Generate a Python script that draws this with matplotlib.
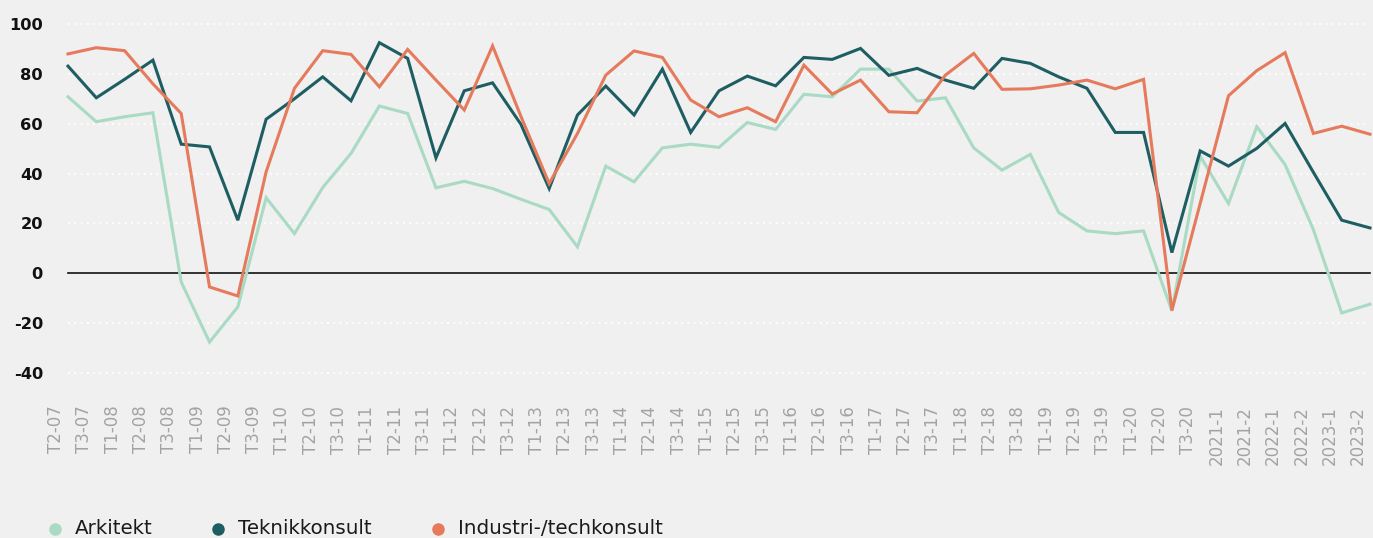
import matplotlib
matplotlib.use("Agg")
import matplotlib.pyplot as plt
import matplotlib.transforms as mtransforms
from matplotlib.lines import Line2D

labels = ["T2-07", "T3-07", "T1-08", "T2-08", "T3-08", "T1-09", "T2-09", "T3-09",
          "T1-10", "T2-10", "T3-10", "T1-11", "T2-11", "T3-11", "T1-12", "T2-12",
          "T3-12", "T1-13", "T2-13", "T3-13", "T1-14", "T2-14", "T3-14", "T1-15",
          "T2-15", "T3-15", "T1-16", "T2-16", "T3-16", "T1-17", "T2-17", "T3-17",
          "T1-18", "T2-18", "T3-18", "T1-19", "T2-19", "T3-19", "T1-20", "T2-20",
          "T3-20", "2021-1", "2021-2", "2022-1", "2022-2", "2023-1", "2023-2"]

arkitekt = [70.8, 60.8, 62.8, 64.4, -3.5, -27.6, -13.5, 30.3, 15.9, 34.4, 48.1, 67.1,
            64.1, 34.3, 36.9, 34.0, 29.7, 25.6, 10.6, 43.0, 36.7, 50.3, 51.8, 50.5,
            60.5, 57.7, 71.8, 70.8, 81.9, 81.9, 69.1, 70.4, 50.3, 41.4, 47.7, 24.4,
            17.0, 15.9, 17.0, -15.1, 47.0, 28.0, 58.8, 43.6, 17.5, -15.9, -12.4]

teknikkonsult = [83.1, 70.4, 77.8, 85.5, 51.8, 50.7, 21.3, 61.8, 70.0, 78.8, 69.2, 92.5,
                 86.2, 46.3, 73.2, 76.4, 59.8, 34.0, 63.5, 75.1, 63.5, 81.9, 56.5, 73.2,
                 79.1, 75.2, 86.6, 85.8, 90.2, 79.4, 82.2, 77.5, 74.2, 86.2, 84.2, 78.8,
                 74.2, 56.5, 56.5, 8.3, 49.1, 43.0, 50.1, 60.1, 40.5, 21.3, 18.2]

industri = [88.0, 90.5, 89.3, 76.0, 64.1, -5.5, -9.1, 40.7, 74.2, 89.3, 87.8, 74.8,
            89.8, 77.5, 65.5, 91.2, 63.0, 36.0, 56.1, 79.5, 89.2, 86.6, 69.5, 62.8,
            66.4, 60.8, 83.5, 71.9, 77.5, 64.8, 64.4, 79.5, 88.2, 73.8, 74.0, 75.5,
            77.5, 74.0, 77.8, -14.9, 28.0, 71.2, 81.3, 88.5, 56.1, 59.0, 55.8]

series_names = ["Arkitekt", "Teknikkonsult", "Industri-/techkonsult"]
colors = ["#A9DAC3", "#1E5E63", "#E57A5C"]
yticks = [-40, -20, 0, 20, 40, 60, 80, 100]

bg = "#EFF0EF"
W, H = 1373, 538
fig = plt.figure(figsize=(W / 100, H / 100), dpi=100, facecolor=bg)
x0, x1 = 68, 1370
ytop, ybot = 24, 373
ax = fig.add_axes([x0 / W, 1 - ybot / H, (x1 - x0) / W, (ybot - ytop) / H])
ax.set_facecolor(bg)
for s in ax.spines.values():
    s.set_visible(False)

xs = list(range(len(labels)))
ax.set_xlim(0, len(labels) - 1)
ax.set_ylim(-40, 100)

for y in yticks:
    if y == 0:
        continue
    ax.axhline(y, color="white", lw=1.3, ls=(0, (1, 2.5)), zorder=1, clip_on=False)
ax.axhline(0, color="#111111", lw=1.2, zorder=2, clip_on=False)

for data, c in zip([arkitekt, teknikkonsult, industri], colors):
    ax.plot(xs, data, color=c, lw=2.2, zorder=3, solid_joinstyle="miter", clip_on=False)

ax.set_yticks(yticks)
ax.set_yticklabels([str(v) for v in yticks], fontsize=11.7, fontweight="bold",
                   color="#111111", family="DejaVu Sans")
ax.tick_params(axis="y", length=0, pad=18)

ax.set_xticks(xs)
ax.set_xticklabels(labels, rotation=90, fontsize=12, color="#A3A3A3", family="DejaVu Sans",
                   va="top", ha="center")
ax.tick_params(axis="x", length=0, pad=23.5)
offset = mtransforms.ScaledTranslation(-12 / 100, 0, fig.dpi_scale_trans)
for lab in ax.get_xticklabels():
    lab.set_transform(lab.get_transform() + offset)

# legend (manual, bottom-left)
leg_y = 1 - 529 / H
marker_x = [55, 218, 438]
for name, c, mx in zip(series_names, colors, marker_x):
    fig.add_artist(Line2D([mx / W], [leg_y], marker="o", ls="none", markersize=8,
                          markerfacecolor=c, markeredgecolor=c,
                          transform=fig.transFigure))
    fig.text((mx + 20) / W, leg_y, name, va="center", ha="left", fontsize=14.3,
             color="#1a1a1a", family="DejaVu Sans")

fig.savefig("out.png", dpi=100, facecolor=bg)
